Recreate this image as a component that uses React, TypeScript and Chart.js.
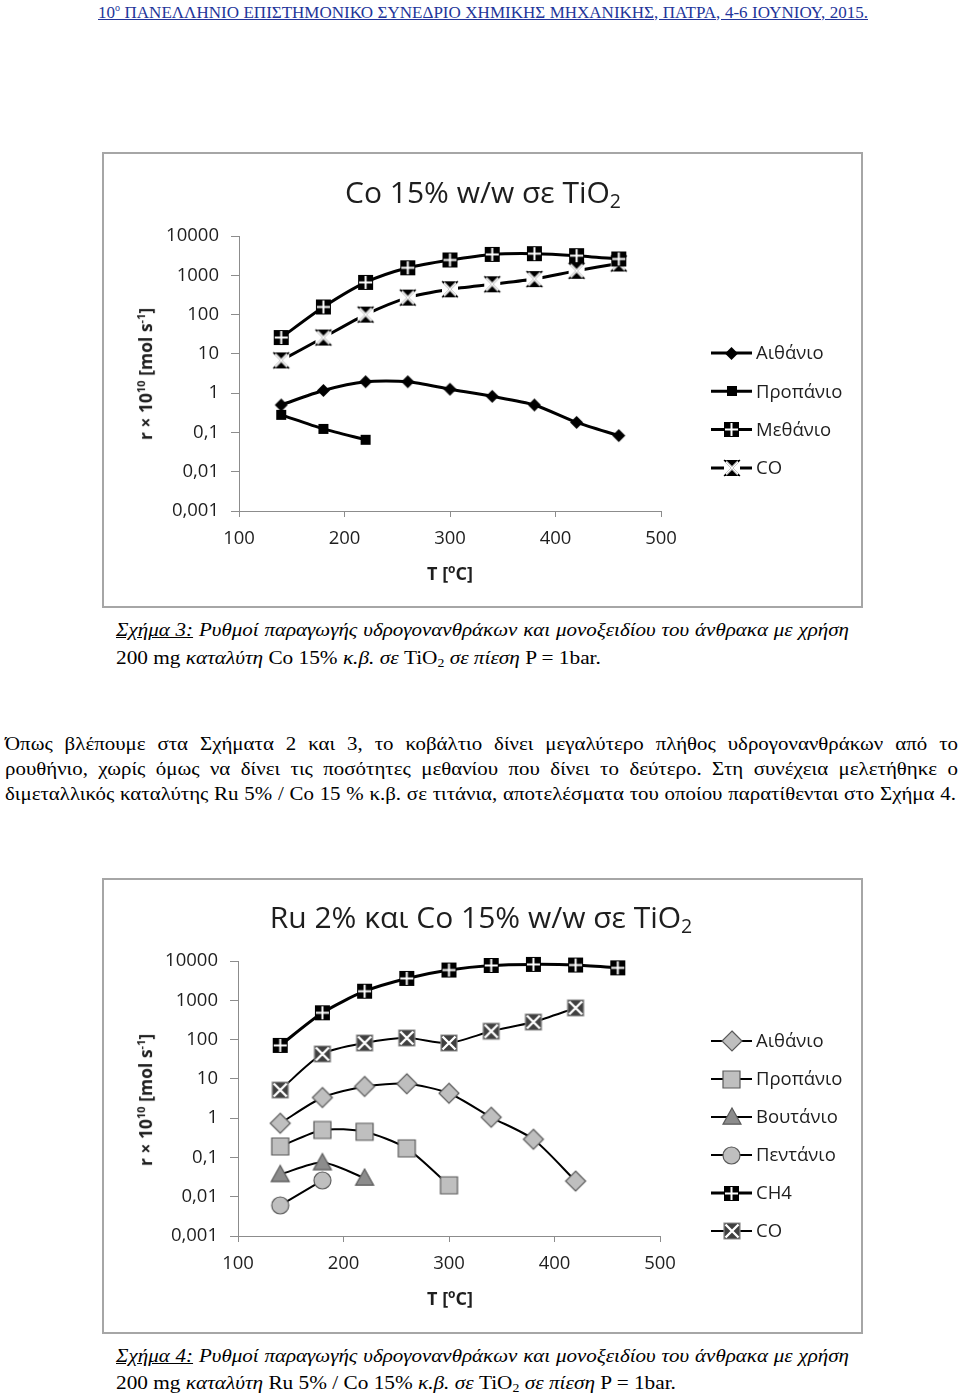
import React, { useEffect, useRef } from "react";
import { Chart, registerables } from "chart.js";
Chart.register(...registerables);

// ---------- data ----------
const temps = [140, 180, 220, 260, 300, 340, 380, 420, 460];
const xTicks = [100, 200, 300, 400, 500];
const yTicks = [0.001, 0.01, 0.1, 1, 10, 100, 1000, 10000];
const yTickLabels = ["0,001", "0,01", "0,1", "1", "10", "100", "1000", "10000"];

// Figure 3: Co 15% w/w on TiO2
const f3Labels = ["Αιθάνιο", "Προπάνιο", "Μεθάνιο", "CO"];
const f3Ethane = [0.5, 1.17, 1.95, 1.95, 1.26, 0.83, 0.5, 0.18, 0.083];
const f3Propane = [0.28, 0.123, 0.065];
const f3Methane = [26, 156, 660, 1550, 2450, 3400, 3550, 3160, 2600];
const f3CO = [6.8, 26, 100, 270, 440, 590, 800, 1300, 2000];

// Figure 4: Ru 2% and Co 15% w/w on TiO2
const f4Labels = ["Αιθάνιο", "Προπάνιο", "Βουτάνιο", "Πεντάνιο", "CH4", "CO"];
const f4Ethane = [0.74, 3.35, 6.4, 7.5, 4.3, 1.05, 0.29, 0.025];
const f4Propane = [0.19, 0.5, 0.45, 0.17, 0.0195];
const f4Butane = [0.037, 0.074, 0.03];
const f4Pentane = [0.006, 0.026];
const f4CH4 = [71, 480, 1700, 3600, 5900, 7700, 8200, 7900, 6700];
const f4CO = [5.2, 43, 82, 110, 82, 163, 280, 640];

// ---------- styles ----------
const SANS = "'Open Sans', 'Noto Sans', sans-serif";
const SERIF = "'Liberation Serif', 'DejaVu Serif', serif";
const AXIS_GRAY = "#8c8c8c";
const TEXT_DARK = "#1e1e1e";
const CAPTION_SCALE = 1.12;
const CAPTION_ITALIC_SCALE = 1.105;
const PARA_SCALE = 1.1;

type MarkerKind = "diamond" | "square" | "triangle" | "circle" | "plusSquare" | "xSquare" | "hourglass";

function makeMarker(kind: MarkerKind, size: number, fill: string, stroke: string | null, lw = 1.2): HTMLCanvasElement {
  const pad = 2;
  const c = document.createElement("canvas");
  const s = Math.ceil(size + pad * 2);
  c.width = s;
  c.height = s;
  const ctx = c.getContext("2d")!;
  const cx = s / 2;
  const cy = s / 2;
  const h = size / 2;
  ctx.lineJoin = "miter";
  ctx.fillStyle = fill;
  ctx.beginPath();
  if (kind === "diamond") {
    ctx.moveTo(cx, cy - h);
    ctx.lineTo(cx + h, cy);
    ctx.lineTo(cx, cy + h);
    ctx.lineTo(cx - h, cy);
    ctx.closePath();
  } else if (kind === "triangle") {
    ctx.moveTo(cx, cy - h);
    ctx.lineTo(cx + h, cy + h * 0.8);
    ctx.lineTo(cx - h, cy + h * 0.8);
    ctx.closePath();
  } else if (kind === "circle") {
    ctx.arc(cx, cy, h, 0, Math.PI * 2);
  } else if (kind === "hourglass") {
    ctx.rect(cx - h, cy - h, size, size);
    ctx.fillStyle = "#fff";
    ctx.fill();
    ctx.beginPath();
    ctx.fillStyle = fill;
    ctx.moveTo(cx - h, cy - h);
    ctx.lineTo(cx + h, cy - h);
    ctx.lineTo(cx, cy);
    ctx.closePath();
    ctx.moveTo(cx - h, cy + h);
    ctx.lineTo(cx + h, cy + h);
    ctx.lineTo(cx, cy);
    ctx.closePath();
  } else {
    ctx.rect(cx - h, cy - h, size, size);
  }
  ctx.fill();
  if (stroke) {
    ctx.strokeStyle = stroke;
    ctx.lineWidth = lw;
    ctx.stroke();
  }
  if (kind === "plusSquare") {
    ctx.strokeStyle = "#fff";
    ctx.lineWidth = 2;
    ctx.beginPath();
    ctx.moveTo(cx, cy - h + 1);
    ctx.lineTo(cx, cy + h - 1);
    ctx.moveTo(cx - h + 1, cy);
    ctx.lineTo(cx + h - 1, cy);
    ctx.stroke();
  }
  if (kind === "xSquare" || kind === "hourglass") {
    ctx.strokeStyle = "#fff";
    ctx.lineWidth = kind === "hourglass" ? 2.8 : 2.4;
    ctx.beginPath();
    ctx.moveTo(cx - h + 1.5, cy - h + 1.5);
    ctx.lineTo(cx + h - 1.5, cy + h - 1.5);
    ctx.moveTo(cx + h - 1.5, cy - h + 1.5);
    ctx.lineTo(cx - h + 1.5, cy + h - 1.5);
    ctx.stroke();
    if (kind === "hourglass") {
      ctx.strokeStyle = fill;
      ctx.lineWidth = 1.2;
      ctx.beginPath();
      ctx.moveTo(cx - h, cy - h);
      ctx.lineTo(cx + h, cy + h);
      ctx.moveTo(cx + h, cy - h);
      ctx.lineTo(cx - h, cy + h);
      ctx.stroke();
      ctx.strokeStyle = "#fff";
      ctx.lineWidth = 1.4;
      ctx.beginPath();
      ctx.moveTo(cx - h + 2, cy - h + 2);
      ctx.lineTo(cx + h - 2, cy + h - 2);
      ctx.moveTo(cx + h - 2, cy - h + 2);
      ctx.lineTo(cx - h + 2, cy + h - 2);
      ctx.stroke();
    }
  }
  return c;
}

type SeriesDef = { label: string; values: number[]; marker: HTMLCanvasElement; lineWidth: number };

type ChartCfg = {
  left: number;
  top: number;
  width: number;
  height: number;
  pad: { left: number; right: number; top: number; bottom: number };
  legendX: number;
  legendY: number;
  legendDy: number;
  series: () => SeriesDef[];
};

function labelForY(v: number): string {
  const i = yTicks.findIndex((t) => Math.abs(Math.log10(t) - Math.log10(v)) < 1e-6);
  return i >= 0 ? yTickLabels[i] : "";
}

function LogChart({ cfg }: { cfg: ChartCfg }) {
  const ref = useRef<HTMLCanvasElement>(null);
  useEffect(() => {
    const series = cfg.series();
    const legendPlugin = {
      id: "lineMarkerLegend",
      afterDraw(chart: any) {
        const ctx = chart.ctx as CanvasRenderingContext2D;
        ctx.save();
        chart.data.datasets.forEach((ds: any, i: number) => {
          const y = cfg.legendY + i * cfg.legendDy;
          const x0 = cfg.legendX;
          ctx.strokeStyle = "#000";
          ctx.lineWidth = ds.borderWidth;
          ctx.beginPath();
          ctx.moveTo(x0, y);
          ctx.lineTo(x0 + 41, y);
          ctx.stroke();
          const img = ds.pointStyle as HTMLCanvasElement;
          ctx.drawImage(img, Math.round(x0 + 20.5 - img.width / 2), Math.round(y - img.height / 2));
          ctx.fillStyle = TEXT_DARK;
          ctx.font = `18.5px ${SANS}`;
          ctx.textBaseline = "middle";
          ctx.textAlign = "left";
          ctx.fillText(ds.label, x0 + 45, y + 1);
        });
        ctx.restore();
      },
    };
    const chart = new Chart(ref.current!, {
      type: "line",
      data: {
        datasets: series.map((s) => ({
          label: s.label,
          data: s.values.map((v, i) => ({ x: temps[i], y: v })),
          borderColor: "#000",
          backgroundColor: "#000",
          borderWidth: s.lineWidth,
          pointStyle: s.marker as any,
          pointRadius: 6,
          tension: 0.25,
          clip: false as any,
        })),
      },
      options: {
        animation: false,
        responsive: false,
        devicePixelRatio: 1,
        layout: { padding: cfg.pad },
        plugins: { legend: { display: false }, tooltip: { enabled: false }, title: { display: false } },
        scales: {
          x: {
            type: "linear",
            min: 100,
            max: 500,
            afterBuildTicks: (s: any) => {
              s.ticks = xTicks.map((v) => ({ value: v }));
            },
            afterFit: (s: any) => {
              s.height = 40;
            },
            ticks: { color: TEXT_DARK, font: { family: SANS, size: 18.5 }, padding: 11, maxRotation: 0 },
            grid: { drawOnChartArea: false, drawTicks: true, tickLength: 6, color: AXIS_GRAY, lineWidth: 1 },
            border: { display: true, color: AXIS_GRAY, width: 1 },
          },
          y: {
            type: "logarithmic",
            min: 0.001,
            max: 10000,
            afterBuildTicks: (s: any) => {
              s.ticks = yTicks.map((v) => ({ value: v }));
            },
            afterFit: (s: any) => {
              s.width = 80;
            },
            ticks: {
              color: TEXT_DARK,
              font: { family: SANS, size: 18.5 },
              padding: 12,
              callback: (v: any) => labelForY(Number(v)),
            },
            grid: { drawOnChartArea: false, drawTicks: true, tickLength: 8, color: AXIS_GRAY, lineWidth: 1 },
            border: { display: true, color: AXIS_GRAY, width: 1 },
          },
        },
      },
      plugins: [legendPlugin],
    });
    return () => chart.destroy();
  }, []);
  return (
    <div
      style={{
        position: "absolute",
        left: cfg.left,
        top: cfg.top,
        width: cfg.width,
        height: cfg.height,
        border: "2px solid #a6a6a6",
        boxSizing: "border-box",
        background: "#fff",
      }}
    >
      <canvas ref={ref} width={cfg.width - 4} height={cfg.height - 4} style={{ display: "block" }} />
    </div>
  );
}

const fig3: ChartCfg = {
  left: 102,
  top: 152,
  width: 761,
  height: 456,
  pad: { left: 55, right: 200, top: 82, bottom: 55 },
  legendX: 607,
  legendY: 199,
  legendDy: 38.3,
  series: () => [
    { label: f3Labels[0], values: f3Ethane, marker: makeMarker("diamond", 13, "#000", null), lineWidth: 3 },
    { label: f3Labels[1], values: f3Propane, marker: makeMarker("square", 10, "#000", null), lineWidth: 3 },
    { label: f3Labels[2], values: f3Methane, marker: makeMarker("plusSquare", 15, "#000", null), lineWidth: 3 },
    { label: f3Labels[3], values: f3CO, marker: makeMarker("hourglass", 16, "#000", null), lineWidth: 3 },
  ],
};

const fig4: ChartCfg = {
  left: 102,
  top: 878,
  width: 761,
  height: 456,
  pad: { left: 54, right: 201, top: 81, bottom: 56 },
  legendX: 607,
  legendY: 161,
  legendDy: 38,
  series: () => [
    { label: f4Labels[0], values: f4Ethane, marker: makeMarker("diamond", 20, "#bfbfbf", "#5a5a5a"), lineWidth: 2 },
    { label: f4Labels[1], values: f4Propane, marker: makeMarker("square", 17, "#bfbfbf", "#5a5a5a"), lineWidth: 2 },
    { label: f4Labels[2], values: f4Butane, marker: makeMarker("triangle", 18, "#8c8c8c", "#5a5a5a"), lineWidth: 2 },
    { label: f4Labels[3], values: f4Pentane, marker: makeMarker("circle", 17, "#bfbfbf", "#5a5a5a"), lineWidth: 2 },
    { label: f4Labels[4], values: f4CH4, marker: makeMarker("plusSquare", 15, "#000", null), lineWidth: 3 },
    { label: f4Labels[5], values: f4CO, marker: makeMarker("xSquare", 16, "#404040", "#8c8c8c"), lineWidth: 2 },
  ],
};

// ---------- text helpers ----------
type LineProps = {
  x: number;
  cy: number;
  width?: number;
  size: number;
  justify?: boolean;
  scale?: number;
  family?: string;
  color?: string;
  children: React.ReactNode;
  style?: React.CSSProperties;
};

function TextLine({ x, cy, width, size, justify, scale, family, color, children, style }: LineProps) {
  const lh = Math.round(size * 1.25);
  const k = scale || 1;
  return (
    <div
      style={{
        position: "absolute",
        left: x,
        top: cy - lh / 2,
        width: width ? width / k : undefined,
        whiteSpace: "nowrap",
        fontFamily: family || SERIF,
        fontSize: size,
        lineHeight: `${lh}px`,
        color: color || "#000",
        textAlign: justify ? "justify" : "left",
        textAlignLast: justify ? "justify" : "left",
        transform: k !== 1 ? `scaleX(${k})` : undefined,
        transformOrigin: "0 50%",
        ...style,
      }}
    >
      {children}
    </div>
  );
}

function Centered({ cx, cy, children, style }: { cx: number; cy: number; children: React.ReactNode; style: React.CSSProperties }) {
  return (
    <div
      style={{
        position: "absolute",
        left: cx,
        top: cy,
        transform: "translate(-50%, -50%)",
        whiteSpace: "nowrap",
        ...style,
      }}
    >
      {children}
    </div>
  );
}

function ChartTexts({ title, titleCx, titleCy, yCy, xCy }: { title: React.ReactNode; titleCx: number; titleCy: number; yCy: number; xCy: number }) {
  return (
    <>
      <Centered cx={titleCx} cy={titleCy} style={{ fontFamily: SANS, fontSize: 30, color: TEXT_DARK, lineHeight: "36px" }}>
        {title}
      </Centered>
      <Centered
        cx={143}
        cy={yCy}
        style={{ fontFamily: SANS, fontWeight: 700, fontSize: 17.5, color: TEXT_DARK, lineHeight: "22px", transform: "translate(-50%, -50%) rotate(-90deg)" }}
      >
        r × 10<sup style={{ fontSize: 11 }}>10</sup> [mol s<sup style={{ fontSize: 11 }}>-1</sup>]
      </Centered>
      <Centered cx={450} cy={xCy} style={{ fontFamily: SANS, fontWeight: 700, fontSize: 18, color: TEXT_DARK, lineHeight: "24px" }}>
        T [<sup style={{ fontSize: 12 }}>o</sup>C]
      </Centered>
    </>
  );
}

const sub = (t: string) => <sub style={{ fontSize: "0.65em", verticalAlign: "-0.25em", lineHeight: 0 }}>{t}</sub>;

export default function App() {
  useEffect(() => {
    document.body.style.margin = "0";
  }, []);
  return (
    <div style={{ position: "absolute", left: 0, top: 0, width: 960, height: 1394, background: "#fff", overflow: "hidden" }}>
      <TextLine x={98} cy={12} width={770} size={17} justify color="#22349a" style={{ textDecoration: "underline" }}>
        10<sup style={{ fontSize: 10, lineHeight: 0 }}>ο</sup> ΠΑΝΕΛΛΗΝΙΟ ΕΠΙΣΤΗΜΟΝΙΚΟ ΣΥΝΕΔΡΙΟ ΧΗΜΙΚΗΣ ΜΗΧΑΝΙΚΗΣ, ΠΑΤΡΑ, 4-6 ΙΟΥΝΙΟΥ, 2015.
      </TextLine>

      <LogChart cfg={fig3} />
      <ChartTexts title={<>Co 15% w/w σε TiO{sub("2")}</>} titleCx={483} titleCy={192} yCy={374} xCy={571} />

      <TextLine x={116} cy={630} width={733} size={19} justify scale={CAPTION_ITALIC_SCALE} style={{ fontStyle: "italic" }}>
        <span style={{ textDecoration: "underline" }}>Σχήμα 3:</span> Ρυθμοί παραγωγής υδρογονανθράκων και μονοξειδίου του άνθρακα με χρήση
      </TextLine>
      <TextLine x={116} cy={658} size={19} scale={CAPTION_SCALE}>
        200 mg <i>καταλύτη</i> Co 15% <i>κ.β. σε</i> TiO{sub("2")} <i>σε πίεση</i> P = 1bar.
      </TextLine>

      <TextLine x={5} cy={744} width={953} size={19} justify scale={PARA_SCALE}>
        Όπως βλέπουμε στα Σχήματα 2 και 3, το κοβάλτιο δίνει μεγαλύτερο πλήθος υδρογονανθράκων από το
      </TextLine>
      <TextLine x={5} cy={769} width={953} size={19} justify scale={PARA_SCALE}>
        ρουθήνιο, χωρίς όμως να δίνει τις ποσότητες μεθανίου που δίνει το δεύτερο. Στη συνέχεια μελετήθηκε ο
      </TextLine>
      <TextLine x={5} cy={794} width={951} size={19} justify scale={PARA_SCALE}>
        διμεταλλικός καταλύτης Ru 5% / Co 15 % κ.β. σε τιτάνια, αποτελέσματα του οποίου παρατίθενται στο Σχήμα 4.
      </TextLine>

      <LogChart cfg={fig4} />
      <ChartTexts title={<>Ru 2% και Co 15% w/w σε TiO{sub("2")}</>} titleCx={481} titleCy={917} yCy={1100} xCy={1296} />

      <TextLine x={116} cy={1356} width={733} size={19} justify scale={CAPTION_ITALIC_SCALE} style={{ fontStyle: "italic" }}>
        <span style={{ textDecoration: "underline" }}>Σχήμα 4:</span> Ρυθμοί παραγωγής υδρογονανθράκων και μονοξειδίου του άνθρακα με χρήση
      </TextLine>
      <TextLine x={116} cy={1383} size={19} scale={CAPTION_SCALE}>
        200 mg <i>καταλύτη</i> Ru 5% / Co 15% <i>κ.β. σε</i> TiO{sub("2")} <i>σε πίεση</i> P = 1bar.
      </TextLine>
    </div>
  );
}
